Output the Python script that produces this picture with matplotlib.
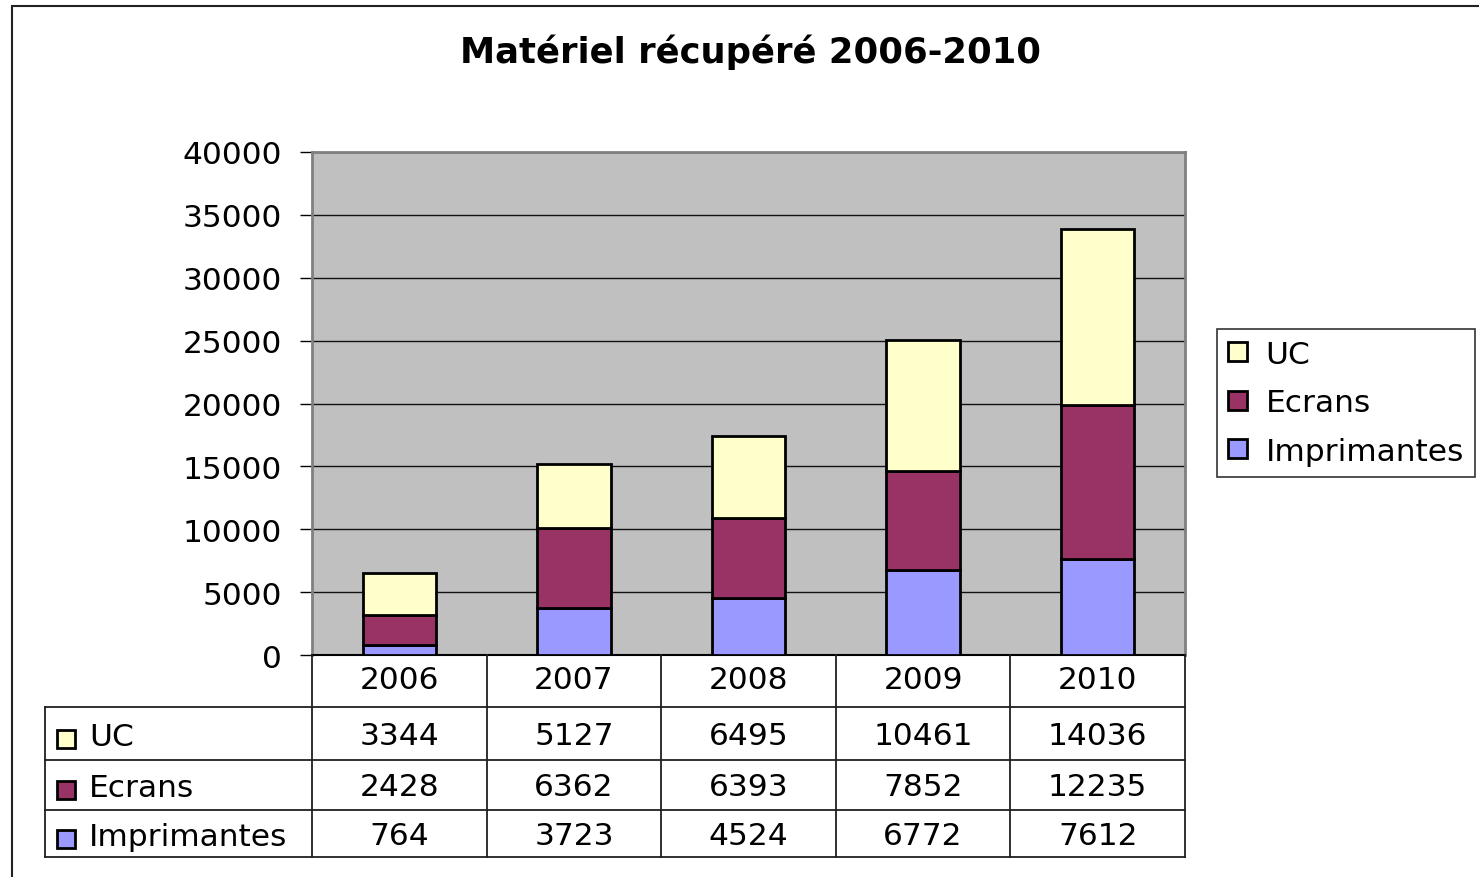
import matplotlib
matplotlib.use("Agg")
import matplotlib.pyplot as plt
from matplotlib.patches import Patch, Rectangle
import numpy as np

plt.rcParams['font.family'] = ['DejaVu Sans']

# data
years = ['2006', '2007', '2008', '2009', '2010']
uc = [3344, 5127, 6495, 10461, 14036]
ecrans = [2428, 6362, 6393, 7852, 12235]
imprimantes = [764, 3723, 4524, 6772, 7612]

series = ['UC', 'Ecrans', 'Imprimantes']
colors = {'UC': '#FFFFCC', 'Ecrans': '#993366', 'Imprimantes': '#9999FF'}

W, H = 1479, 878
fig = plt.figure(figsize=(W / 100, H / 100), dpi=100)

# outer chart border
fig.patches.append(Rectangle((12 / W, -0.05), 1.1, 1 - 7 / H + 0.05,
                             transform=fig.transFigure, fill=False,
                             edgecolor='#222222', lw=1.5))

fig.text(751 / W, 1 - 52 / H, 'Matériel récupéré 2006-2010',
         ha='center', va='center', fontsize=25.5, fontweight='bold')

# main plot
ax = fig.add_axes([312 / W, 1 - 656 / H, (1185 - 312) / W, (656 - 153) / H])
ax.set_facecolor('#C0C0C0')
x = np.arange(len(years))
bw = 0.42
ax.bar(x, imprimantes, bw, color=colors['Imprimantes'], edgecolor='black', lw=2, zorder=3)
ax.bar(x, ecrans, bw, bottom=imprimantes, color=colors['Ecrans'], edgecolor='black', lw=2, zorder=3)
bottom2 = np.array(imprimantes) + np.array(ecrans)
ax.bar(x, uc, bw, bottom=bottom2, color=colors['UC'], edgecolor='black', lw=2, zorder=3)

ax.set_xlim(-0.5, 4.5)
ax.set_ylim(0, 40000)
ax.set_yticks(np.arange(0, 40001, 5000))
ax.yaxis.grid(True, color='#111111', lw=1, zorder=0)
ax.set_xticks([])
ax.tick_params(axis='y', labelsize=22.5, length=8.5, width=1, color='black', pad=13)
for s in ['top', 'right', 'left']:
    ax.spines[s].set_color('#808080')
    ax.spines[s].set_linewidth(2)
ax.spines['bottom'].set_color('black')
ax.spines['bottom'].set_linewidth(1.5)

# legend
handles = [Patch(facecolor=colors[s], edgecolor='black', lw=2, label=s) for s in series]
leg = fig.legend(handles=handles, loc='upper left',
                 bbox_to_anchor=(1217 / W, 1 - 330 / H), borderaxespad=0,
                 fontsize=22.5, frameon=True, fancybox=False, edgecolor='black',
                 handlelength=0.6, handleheight=0.55, handletextpad=0.6,
                 labelspacing=0.62, borderpad=0.35)
leg.get_frame().set_linewidth(1.2)

# data table (y in pixel rows of the picture)
tax = fig.add_axes([45 / W, 1 - 858 / H, (1185 - 45) / W, (858 - 656) / H])
unit = (1185 - 312) / 5
x0 = -0.5 - (312 - 45) / unit
tax.set_xlim(x0, 4.5)
tax.set_ylim(858, 656)
tax.axis('off')
row_edges = [656, 708, 761, 811, 858]

lc = '#202020'
for xv in np.arange(-0.5, 4.51, 1):
    tax.plot([xv, xv], [656, 858], color=lc, lw=1.3, clip_on=False)
for yv in row_edges[1:]:
    tax.plot([x0, 4.5], [yv, yv], color=lc, lw=1.3, clip_on=False)
tax.plot([x0, x0], [708, 858], color=lc, lw=1.3, clip_on=False)

for i, yr in enumerate(years):
    tax.text(i, 681, yr, ha='center', va='center', fontsize=22.5)

rows = [uc, ecrans, imprimantes]
for r, (name, vals) in enumerate(zip(series, rows)):
    yc = (row_edges[r + 1] + row_edges[r + 2]) / 2 + 2
    tax.plot(x0 + 21 / unit, yc + 3, marker='s', ms=13, mfc=colors[name],
             mec='black', mew=2, clip_on=False)
    tax.text(x0 + 44 / unit, yc + 1, name, ha='left', va='center', fontsize=22.5)
    for i, v in enumerate(vals):
        tax.text(i, yc, str(v), ha='center', va='center', fontsize=22.5)

fig.savefig('out.png', dpi=100)
